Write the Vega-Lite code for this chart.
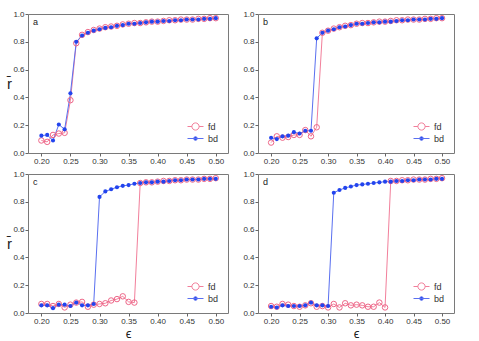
{
  "$schema": "https://vega.github.io/schema/vega-lite/v6.json",
  "padding": {"left": 5, "top": 9, "right": 5, "bottom": 2},
  "background": "white",
  "config": {
    "font": "Liberation Sans",
    "view": {"stroke": "#7a7a7a", "strokeWidth": 1},
    "axis": {"domain": false, "grid": false, "ticks": true, "tickSize": 3, "tickColor": "#666", "labelFontSize": 8, "labelColor": "#333", "labelPadding": 1, "titleColor": "#222", "titleFontWeight": "normal"},
    "legend": {"labelFont": "Liberation Sans", "labelFontSize": 9, "labelColor": "#333"}
  },
  "data": {"values": [
    {"p":"a","e":0.20,"fd":0.09,"bd":0.125},{"p":"a","e":0.21,"fd":0.08,"bd":0.13},{"p":"a","e":0.22,"fd":0.13,"bd":0.09},{"p":"a","e":0.23,"fd":0.14,"bd":0.205},{"p":"a","e":0.24,"fd":0.145,"bd":0.17},{"p":"a","e":0.25,"fd":0.38,"bd":0.43},{"p":"a","e":0.26,"fd":0.79,"bd":0.80},{"p":"a","e":0.27,"fd":0.85,"bd":0.845},{"p":"a","e":0.28,"fd":0.87,"bd":0.865},{"p":"a","e":0.29,"fd":0.885,"bd":0.88},{"p":"a","e":0.30,"fd":0.895,"bd":0.89},{"p":"a","e":0.31,"fd":0.905,"bd":0.90},{"p":"a","e":0.32,"fd":0.91,"bd":0.905},{"p":"a","e":0.33,"fd":0.915,"bd":0.915},{"p":"a","e":0.34,"fd":0.925,"bd":0.92},{"p":"a","e":0.35,"fd":0.93,"bd":0.93},{"p":"a","e":0.36,"fd":0.935,"bd":0.93},{"p":"a","e":0.37,"fd":0.935,"bd":0.935},{"p":"a","e":0.38,"fd":0.94,"bd":0.94},{"p":"a","e":0.39,"fd":0.945,"bd":0.945},{"p":"a","e":0.40,"fd":0.945,"bd":0.945},{"p":"a","e":0.41,"fd":0.95,"bd":0.95},{"p":"a","e":0.42,"fd":0.955,"bd":0.95},{"p":"a","e":0.43,"fd":0.955,"bd":0.955},{"p":"a","e":0.44,"fd":0.96,"bd":0.955},{"p":"a","e":0.45,"fd":0.96,"bd":0.96},{"p":"a","e":0.46,"fd":0.96,"bd":0.96},{"p":"a","e":0.47,"fd":0.965,"bd":0.96},{"p":"a","e":0.48,"fd":0.965,"bd":0.965},{"p":"a","e":0.49,"fd":0.97,"bd":0.965},{"p":"a","e":0.50,"fd":0.97,"bd":0.97},
    {"p":"b","e":0.20,"fd":0.075,"bd":0.11},{"p":"b","e":0.21,"fd":0.12,"bd":0.10},{"p":"b","e":0.22,"fd":0.11,"bd":0.12},{"p":"b","e":0.23,"fd":0.115,"bd":0.125},{"p":"b","e":0.24,"fd":0.13,"bd":0.15},{"p":"b","e":0.25,"fd":0.13,"bd":0.14},{"p":"b","e":0.26,"fd":0.165,"bd":0.16},{"p":"b","e":0.27,"fd":0.12,"bd":0.16},{"p":"b","e":0.28,"fd":0.185,"bd":0.825},{"p":"b","e":0.29,"fd":0.865,"bd":0.865},{"p":"b","e":0.30,"fd":0.88,"bd":0.88},{"p":"b","e":0.31,"fd":0.895,"bd":0.89},{"p":"b","e":0.32,"fd":0.905,"bd":0.905},{"p":"b","e":0.33,"fd":0.915,"bd":0.91},{"p":"b","e":0.34,"fd":0.92,"bd":0.92},{"p":"b","e":0.35,"fd":0.93,"bd":0.93},{"p":"b","e":0.36,"fd":0.935,"bd":0.93},{"p":"b","e":0.37,"fd":0.935,"bd":0.935},{"p":"b","e":0.38,"fd":0.94,"bd":0.94},{"p":"b","e":0.39,"fd":0.945,"bd":0.94},{"p":"b","e":0.40,"fd":0.945,"bd":0.945},{"p":"b","e":0.41,"fd":0.95,"bd":0.945},{"p":"b","e":0.42,"fd":0.955,"bd":0.95},{"p":"b","e":0.43,"fd":0.955,"bd":0.955},{"p":"b","e":0.44,"fd":0.96,"bd":0.955},{"p":"b","e":0.45,"fd":0.96,"bd":0.96},{"p":"b","e":0.46,"fd":0.96,"bd":0.96},{"p":"b","e":0.47,"fd":0.965,"bd":0.96},{"p":"b","e":0.48,"fd":0.965,"bd":0.965},{"p":"b","e":0.49,"fd":0.97,"bd":0.965},{"p":"b","e":0.50,"fd":0.97,"bd":0.97},
    {"p":"c","e":0.20,"fd":0.065,"bd":0.055},{"p":"c","e":0.21,"fd":0.065,"bd":0.055},{"p":"c","e":0.22,"fd":0.05,"bd":0.035},{"p":"c","e":0.23,"fd":0.065,"bd":0.06},{"p":"c","e":0.24,"fd":0.04,"bd":0.06},{"p":"c","e":0.25,"fd":0.06,"bd":0.05},{"p":"c","e":0.26,"fd":0.075,"bd":0.075},{"p":"c","e":0.27,"fd":0.08,"bd":0.055},{"p":"c","e":0.28,"fd":0.045,"bd":0.055},{"p":"c","e":0.29,"fd":0.06,"bd":0.065},{"p":"c","e":0.30,"fd":0.065,"bd":0.835},{"p":"c","e":0.31,"fd":0.07,"bd":0.875},{"p":"c","e":0.32,"fd":0.09,"bd":0.89},{"p":"c","e":0.33,"fd":0.10,"bd":0.905},{"p":"c","e":0.34,"fd":0.12,"bd":0.915},{"p":"c","e":0.35,"fd":0.08,"bd":0.92},{"p":"c","e":0.36,"fd":0.075,"bd":0.93},{"p":"c","e":0.37,"fd":0.935,"bd":0.935},{"p":"c","e":0.38,"fd":0.94,"bd":0.94},{"p":"c","e":0.39,"fd":0.94,"bd":0.94},{"p":"c","e":0.40,"fd":0.945,"bd":0.945},{"p":"c","e":0.41,"fd":0.95,"bd":0.945},{"p":"c","e":0.42,"fd":0.95,"bd":0.95},{"p":"c","e":0.43,"fd":0.955,"bd":0.955},{"p":"c","e":0.44,"fd":0.955,"bd":0.955},{"p":"c","e":0.45,"fd":0.96,"bd":0.96},{"p":"c","e":0.46,"fd":0.96,"bd":0.96},{"p":"c","e":0.47,"fd":0.96,"bd":0.96},{"p":"c","e":0.48,"fd":0.965,"bd":0.965},{"p":"c","e":0.49,"fd":0.965,"bd":0.965},{"p":"c","e":0.50,"fd":0.97,"bd":0.965},
    {"p":"d","e":0.20,"fd":0.05,"bd":0.045},{"p":"d","e":0.21,"fd":0.045,"bd":0.04},{"p":"d","e":0.22,"fd":0.065,"bd":0.055},{"p":"d","e":0.23,"fd":0.06,"bd":0.05},{"p":"d","e":0.24,"fd":0.05,"bd":0.05},{"p":"d","e":0.25,"fd":0.045,"bd":0.05},{"p":"d","e":0.26,"fd":0.055,"bd":0.055},{"p":"d","e":0.27,"fd":0.07,"bd":0.075},{"p":"d","e":0.28,"fd":0.045,"bd":0.055},{"p":"d","e":0.29,"fd":0.05,"bd":0.055},{"p":"d","e":0.30,"fd":0.04,"bd":0.05},{"p":"d","e":0.31,"fd":0.065,"bd":0.865},{"p":"d","e":0.32,"fd":0.04,"bd":0.885},{"p":"d","e":0.33,"fd":0.07,"bd":0.90},{"p":"d","e":0.34,"fd":0.055,"bd":0.91},{"p":"d","e":0.35,"fd":0.06,"bd":0.92},{"p":"d","e":0.36,"fd":0.055,"bd":0.925},{"p":"d","e":0.37,"fd":0.045,"bd":0.93},{"p":"d","e":0.38,"fd":0.045,"bd":0.935},{"p":"d","e":0.39,"fd":0.075,"bd":0.94},{"p":"d","e":0.40,"fd":0.04,"bd":0.945},{"p":"d","e":0.41,"fd":0.95,"bd":0.945},{"p":"d","e":0.42,"fd":0.95,"bd":0.95},{"p":"d","e":0.43,"fd":0.955,"bd":0.95},{"p":"d","e":0.44,"fd":0.955,"bd":0.955},{"p":"d","e":0.45,"fd":0.96,"bd":0.955},{"p":"d","e":0.46,"fd":0.96,"bd":0.96},{"p":"d","e":0.47,"fd":0.96,"bd":0.96},{"p":"d","e":0.48,"fd":0.965,"bd":0.96},{"p":"d","e":0.49,"fd":0.965,"bd":0.965},{"p":"d","e":0.50,"fd":0.97,"bd":0.965}
  ]},
  "spacing": 3,
  "vconcat": [
    {
      "spacing": 13,
      "resolve": {"scale": {"color": "independent"}, "legend": {"color": "independent"}},
      "hconcat": [
        {
          "width": 200, "height": 139,
          "title": {"text": "a", "anchor": "start", "frame": "group", "offset": -17, "dx": 5, "fontSize": 9, "fontWeight": "normal", "color": "#222"},
          "transform": [{"filter": "datum.p === 'a'"}, {"fold": ["fd", "bd"], "as": ["s", "r"]}],
          "encoding": {
            "x": {"field": "e", "type": "quantitative", "scale": {"domain": [0.177, 0.521], "nice": false, "zero": false}, "axis": {"values": [0.2, 0.25, 0.3, 0.35, 0.4, 0.45, 0.5], "labelExpr": "format(datum.value, '.2f')", "title": null}},
            "y": {"field": "r", "type": "quantitative", "scale": {"domain": [0, 1], "nice": false}, "axis": {"values": [0, 0.2, 0.4, 0.6, 0.8, 1], "labelExpr": "format(datum.value, '.1f')", "title": "r\u0304", "titleAngle": 0, "titleFontSize": 15, "titleAlign": "center", "titleBaseline": "middle", "titlePadding": 4}}
          },
          "layer": [
            {"mark": {"type": "line", "strokeWidth": 1},
             "encoding": {"color": {"field": "s", "type": "nominal", "scale": {"domain": ["fd", "bd"], "range": ["#f27f9b", "#5a70f0"]},
               "legend": {"title": null, "orient": "bottom-right", "offset": 9, "symbolType": "M-2,0L2,0", "symbolSize": 64, "symbolStrokeWidth": 1, "labelOffset": 8, "rowPadding": 1,
                 "encode": {"symbols": {"update": {"fill": {"signal": "datum.value === 'bd' ? '#2244ee' : 'transparent'"}, "shape": {"signal": "datum.value === 'bd' ? 'M-2,0L2,0M0.45,0A0.45,0.45,0,1,1,-0.45,0A0.45,0.45,0,1,1,0.45,0' : 'M-2,0L-0.9,0M0.9,0L2,0M0.9,0A0.9,0.9,0,1,1,-0.9,0A0.9,0.9,0,1,1,0.9,0'"}}}}}}}},
            {"transform": [{"filter": "datum.s === 'fd'"}], "mark": {"type": "point", "shape": "circle", "filled": false, "stroke": "#ee6688", "strokeWidth": 1, "size": 30, "opacity": 1}},
            {"transform": [{"filter": "datum.s === 'bd'"}], "mark": {"type": "circle", "color": "#2244ee", "size": 17, "opacity": 1}}
          ]
        },
        {
          "width": 196, "height": 139,
          "title": {"text": "b", "anchor": "start", "frame": "group", "offset": -17, "dx": 5, "fontSize": 9, "fontWeight": "normal", "color": "#222"},
          "transform": [{"filter": "datum.p === 'b'"}, {"fold": ["fd", "bd"], "as": ["s", "r"]}],
          "encoding": {
            "x": {"field": "e", "type": "quantitative", "scale": {"domain": [0.177, 0.521], "nice": false, "zero": false}, "axis": {"values": [0.2, 0.25, 0.3, 0.35, 0.4, 0.45, 0.5], "labelExpr": "format(datum.value, '.2f')", "title": null}},
            "y": {"field": "r", "type": "quantitative", "scale": {"domain": [0, 1], "nice": false}, "axis": {"values": [0, 0.2, 0.4, 0.6, 0.8, 1], "labelExpr": "format(datum.value, '.1f')", "title": null}}
          },
          "layer": [
            {"mark": {"type": "line", "strokeWidth": 1},
             "encoding": {"color": {"field": "s", "type": "nominal", "scale": {"domain": ["fd", "bd"], "range": ["#f27f9b", "#5a70f0"]},
               "legend": {"title": null, "orient": "bottom-right", "offset": 9, "symbolType": "M-2,0L2,0", "symbolSize": 64, "symbolStrokeWidth": 1, "labelOffset": 8, "rowPadding": 1,
                 "encode": {"symbols": {"update": {"fill": {"signal": "datum.value === 'bd' ? '#2244ee' : 'transparent'"}, "shape": {"signal": "datum.value === 'bd' ? 'M-2,0L2,0M0.45,0A0.45,0.45,0,1,1,-0.45,0A0.45,0.45,0,1,1,0.45,0' : 'M-2,0L-0.9,0M0.9,0L2,0M0.9,0A0.9,0.9,0,1,1,-0.9,0A0.9,0.9,0,1,1,0.9,0'"}}}}}}}},
            {"transform": [{"filter": "datum.s === 'fd'"}], "mark": {"type": "point", "shape": "circle", "filled": false, "stroke": "#ee6688", "strokeWidth": 1, "size": 30, "opacity": 1}},
            {"transform": [{"filter": "datum.s === 'bd'"}], "mark": {"type": "circle", "color": "#2244ee", "size": 17, "opacity": 1}}
          ]
        }
      ]
    },
    {
      "spacing": 13,
      "resolve": {"scale": {"color": "independent"}, "legend": {"color": "independent"}},
      "hconcat": [
        {
          "width": 200, "height": 139,
          "title": {"text": "c", "anchor": "start", "frame": "group", "offset": -17, "dx": 5, "fontSize": 9, "fontWeight": "normal", "color": "#222"},
          "transform": [{"filter": "datum.p === 'c'"}, {"fold": ["fd", "bd"], "as": ["s", "r"]}],
          "encoding": {
            "x": {"field": "e", "type": "quantitative", "scale": {"domain": [0.177, 0.521], "nice": false, "zero": false}, "axis": {"values": [0.2, 0.25, 0.3, 0.35, 0.4, 0.45, 0.5], "labelExpr": "format(datum.value, '.2f')", "title": "\u03f5", "titleFontSize": 13, "titlePadding": 2}},
            "y": {"field": "r", "type": "quantitative", "scale": {"domain": [0, 1], "nice": false}, "axis": {"values": [0, 0.2, 0.4, 0.6, 0.8, 1], "labelExpr": "format(datum.value, '.1f')", "title": "r\u0304", "titleAngle": 0, "titleFontSize": 15, "titleAlign": "center", "titleBaseline": "middle", "titlePadding": 4}}
          },
          "layer": [
            {"mark": {"type": "line", "strokeWidth": 1},
             "encoding": {"color": {"field": "s", "type": "nominal", "scale": {"domain": ["fd", "bd"], "range": ["#f27f9b", "#5a70f0"]},
               "legend": {"title": null, "orient": "bottom-right", "offset": 9, "symbolType": "M-2,0L2,0", "symbolSize": 64, "symbolStrokeWidth": 1, "labelOffset": 8, "rowPadding": 1,
                 "encode": {"symbols": {"update": {"fill": {"signal": "datum.value === 'bd' ? '#2244ee' : 'transparent'"}, "shape": {"signal": "datum.value === 'bd' ? 'M-2,0L2,0M0.45,0A0.45,0.45,0,1,1,-0.45,0A0.45,0.45,0,1,1,0.45,0' : 'M-2,0L-0.9,0M0.9,0L2,0M0.9,0A0.9,0.9,0,1,1,-0.9,0A0.9,0.9,0,1,1,0.9,0'"}}}}}}}},
            {"transform": [{"filter": "datum.s === 'fd'"}], "mark": {"type": "point", "shape": "circle", "filled": false, "stroke": "#ee6688", "strokeWidth": 1, "size": 30, "opacity": 1}},
            {"transform": [{"filter": "datum.s === 'bd'"}], "mark": {"type": "circle", "color": "#2244ee", "size": 17, "opacity": 1}}
          ]
        },
        {
          "width": 196, "height": 139,
          "title": {"text": "d", "anchor": "start", "frame": "group", "offset": -17, "dx": 5, "fontSize": 9, "fontWeight": "normal", "color": "#222"},
          "transform": [{"filter": "datum.p === 'd'"}, {"fold": ["fd", "bd"], "as": ["s", "r"]}],
          "encoding": {
            "x": {"field": "e", "type": "quantitative", "scale": {"domain": [0.177, 0.521], "nice": false, "zero": false}, "axis": {"values": [0.2, 0.25, 0.3, 0.35, 0.4, 0.45, 0.5], "labelExpr": "format(datum.value, '.2f')", "title": "\u03f5", "titleFontSize": 13, "titlePadding": 2}},
            "y": {"field": "r", "type": "quantitative", "scale": {"domain": [0, 1], "nice": false}, "axis": {"values": [0, 0.2, 0.4, 0.6, 0.8, 1], "labelExpr": "format(datum.value, '.1f')", "title": null}}
          },
          "layer": [
            {"mark": {"type": "line", "strokeWidth": 1},
             "encoding": {"color": {"field": "s", "type": "nominal", "scale": {"domain": ["fd", "bd"], "range": ["#f27f9b", "#5a70f0"]},
               "legend": {"title": null, "orient": "bottom-right", "offset": 9, "symbolType": "M-2,0L2,0", "symbolSize": 64, "symbolStrokeWidth": 1, "labelOffset": 8, "rowPadding": 1,
                 "encode": {"symbols": {"update": {"fill": {"signal": "datum.value === 'bd' ? '#2244ee' : 'transparent'"}, "shape": {"signal": "datum.value === 'bd' ? 'M-2,0L2,0M0.45,0A0.45,0.45,0,1,1,-0.45,0A0.45,0.45,0,1,1,0.45,0' : 'M-2,0L-0.9,0M0.9,0L2,0M0.9,0A0.9,0.9,0,1,1,-0.9,0A0.9,0.9,0,1,1,0.9,0'"}}}}}}}},
            {"transform": [{"filter": "datum.s === 'fd'"}], "mark": {"type": "point", "shape": "circle", "filled": false, "stroke": "#ee6688", "strokeWidth": 1, "size": 30, "opacity": 1}},
            {"transform": [{"filter": "datum.s === 'bd'"}], "mark": {"type": "circle", "color": "#2244ee", "size": 17, "opacity": 1}}
          ]
        }
      ]
    }
  ]
}
